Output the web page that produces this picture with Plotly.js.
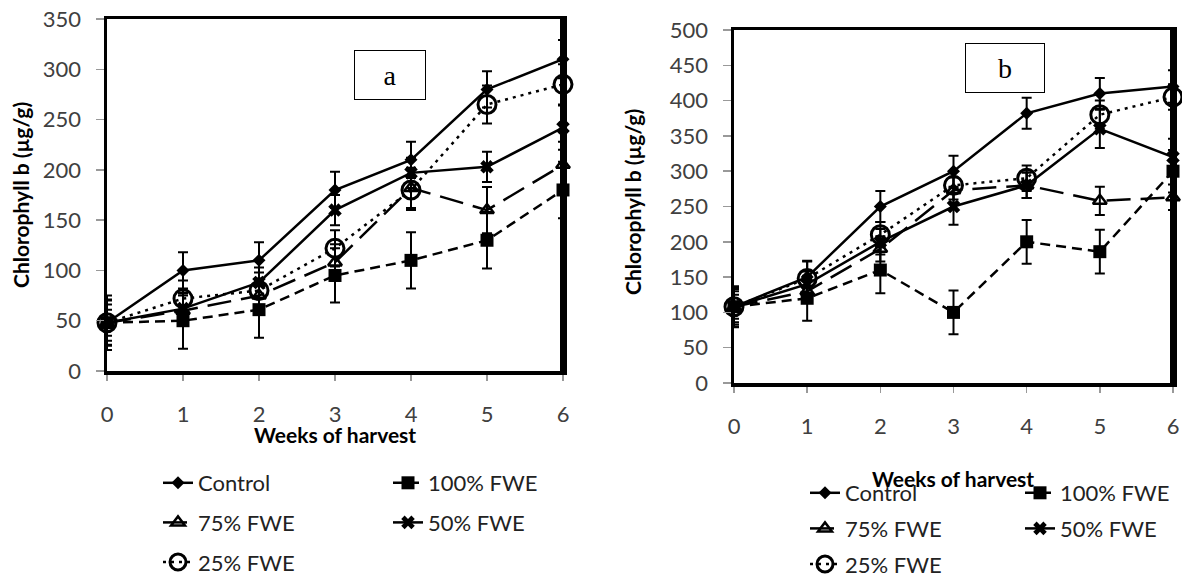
<!DOCTYPE html>
<html><head><meta charset="utf-8">
<script src="https://cdn.plot.ly/plotly-3.0.1.min.js"></script>
<style>html,body{margin:0;padding:0;background:#fff}#chart{width:1182px;height:575px}</style>
</head><body><div id="chart"></div>
<script>
// ---- data ----
const weeks = [0, 1, 2, 3, 4, 5, 6];
const seriesNames = ['Control', '100% FWE', '75% FWE', '50% FWE', '25% FWE'];

// panel a
const aControl = [48, 100, 110, 180, 210, 280, 310];
const aControlErr = [27, 18, 18, 18, 18, 18, 19];
const aFwe100 = [48, 50, 61, 95, 110, 130, 180];
const aFwe100Err = [22, 28, 28, 27, 28, 28, 28];
const aFwe75 = [48, 60, 75, 108, 182, 160, 205];
const aFwe75Err = [18, 15, 15, 18, 20, 23, 23];
const aFwe50 = [48, 62, 88, 160, 197, 203, 242];
const aFwe50Err = [13, 15, 15, 15, 15, 15, 22];
const aFwe25 = [48, 72, 80, 122, 180, 265, 285];
const aFwe25Err = [23, 18, 18, 18, 20, 19, 20];

// panel b
const bControl = [108, 150, 250, 300, 382, 410, 420];
const bControlErr = [29, 22, 22, 22, 22, 22, 23];
const bFwe100 = [108, 120, 160, 100, 200, 186, 300];
const bFwe100Err = [25, 32, 33, 31, 31, 31, 30];
const bFwe75 = [108, 130, 190, 273, 280, 258, 263];
const bFwe75Err = [17, 15, 18, 18, 18, 20, 18];
const bFwe50 = [108, 140, 200, 250, 280, 360, 320];
const bFwe50Err = [22, 18, 18, 26, 18, 27, 26];
const bFwe25 = [108, 148, 210, 280, 290, 380, 405];
const bFwe25Err = [28, 25, 18, 20, 18, 20, 18];

const yTitle = 'Chlorophyll b (µg/g)';
const xTitle = 'Weeks of harvest';

// ---- styles ----
const styles = [
  {dash: 'solid', symbol: 'diamond', size: 10, mline: 0},
  {dash: '10px,6px', symbol: 'square', size: 13, mline: 0},
  {dash: '24px,10px', symbol: 'triangle-up-open', size: 12, mline: 2.5},
  {dash: 'solid', symbol: 'x', size: 12, mline: 0},
  {dash: '3px,5px', symbol: 'circle-open', size: 18, mline: 3}
];
const legendCol = ['A', 'B', 'A', 'B', 'A'];

const FONT = 'Lato, "Open Sans", sans-serif';

function makeTraces(vals, errs, xa, ya, legA, legB, tag) {
  return vals.map((v, i) => ({
    type: 'scatter', mode: 'lines+markers',
    x: weeks, y: v, name: seriesNames[i],
    xaxis: xa, yaxis: ya,
    legend: legendCol[i] === 'A' ? legA : legB,
    legendgroup: tag + i,
    cliponaxis: false,
    line: {color: '#000', width: 2.5, dash: styles[i].dash},
    marker: {symbol: styles[i].symbol, size: styles[i].size, color: '#000',
             line: {color: '#000', width: styles[i].mline}},
    error_y: {type: 'data', array: errs[i], visible: true, color: '#000', thickness: 2, width: 5}
  }));
}

const traces = [
  ...makeTraces([aControl, aFwe100, aFwe75, aFwe50, aFwe25],
                [aControlErr, aFwe100Err, aFwe75Err, aFwe50Err, aFwe25Err],
                'x', 'y', 'legend', 'legend2', 'a'),
  ...makeTraces([bControl, bFwe100, bFwe75, bFwe50, bFwe25],
                [bControlErr, bFwe100Err, bFwe75Err, bFwe50Err, bFwe25Err],
                'x2', 'y2', 'legend3', 'legend4', 'b')
];

const W = 1182, H = 575;
const px = v => v / W;
const py = v => 1 - v / H;

function xAxis(dom, standoff) {
  return {domain: dom, range: [0, 6], dtick: 1, tick0: 0, showgrid: false, zeroline: false,
    showline: true, linecolor: '#000', linewidth: 3.5, mirror: true,
    ticks: 'outside', ticklen: 6, tickcolor: '#999', tickwidth: 1.5,
    ticklabelstandoff: standoff, automargin: false,
    tickfont: {family: FONT, size: 22, color: '#404040'}};
}
function yAxis(dom, max) {
  return {domain: dom, range: [0, max], dtick: 50, tick0: 0, showgrid: false, zeroline: false,
    showline: true, linecolor: '#000', linewidth: 3.5, mirror: true,
    ticks: 'outside', ticklen: 8, tickcolor: '#999', tickwidth: 1.5,
    ticklabelstandoff: 10, automargin: false,
    tickfont: {family: FONT, size: 22, color: '#404040'}};
}
function leg(x, y, gap) {
  return {x: px(x), y: py(y), xanchor: 'left', yanchor: 'top', bgcolor: 'rgba(0,0,0,0)',
    font: {family: FONT, size: 22, color: '#222'}, tracegroupgap: gap, itemwidth: 30};
}

const titleFont = {family: FONT, size: 21, color: '#000', weight: 'bold'};

const layout = {
  width: W, height: H,
  margin: {l: 0, r: 0, t: 0, b: 0, pad: 0, autoexpand: false},
  paper_bgcolor: '#fff', plot_bgcolor: '#fff',
  showlegend: true,
  xaxis: xAxis([px(107), px(563)], 15),
  yaxis: yAxis([py(371), py(19)], 350),
  xaxis2: Object.assign(xAxis([px(734), px(1173)], 15), {anchor: 'y2'}),
  yaxis2: Object.assign(yAxis([py(383), py(30)], 500), {anchor: 'x2'}),
  legend: leg(158, 462, 8),
  legend2: leg(388, 462, 8),
  legend3: leg(805, 472, 4),
  legend4: leg(1020, 472, 4),
  shapes: [
    {type: 'line', xref: 'x', yref: 'y domain', x0: 6, x1: 6, y0: 0, y1: 1, line: {color: '#000', width: 6}},
    {type: 'line', xref: 'x2', yref: 'y2 domain', x0: 6, x1: 6, y0: 0, y1: 1, line: {color: '#000', width: 6}}
  ],
  annotations: [
    {xref: 'paper', yref: 'paper', x: px(20), y: py(195), xanchor: 'center', yanchor: 'middle', text: yTitle, textangle: -90, showarrow: false, font: titleFont},
    {xref: 'paper', yref: 'paper', x: px(633), y: py(202), xanchor: 'center', yanchor: 'middle', text: yTitle, textangle: -90, showarrow: false, font: titleFont},
    {xref: 'paper', yref: 'paper', x: px(335), y: py(434), xanchor: 'center', yanchor: 'middle', text: xTitle, showarrow: false, font: titleFont},
    {xref: 'paper', yref: 'paper', x: px(953), y: py(478), xanchor: 'center', yanchor: 'middle', text: xTitle, showarrow: false, font: titleFont},
    {xref: 'x', yref: 'y', x: 3.73, y: 294, text: 'a', showarrow: false, width: 68, height: 46,
     bordercolor: '#000', borderwidth: 1, bgcolor: '#fff',
     font: {family: '"Liberation Serif", "Times New Roman", serif', size: 28, color: '#000'}},
    {xref: 'x2', yref: 'y2', x: 3.71, y: 446, text: 'b', showarrow: false, width: 76, height: 46,
     bordercolor: '#000', borderwidth: 1, bgcolor: '#fff',
     font: {family: '"Liberation Serif", "Times New Roman", serif', size: 28, color: '#000'}}
  ]
};

Plotly.newPlot('chart', traces, layout, {displayModeBar: false, staticPlot: true});
</script>
</body></html>
